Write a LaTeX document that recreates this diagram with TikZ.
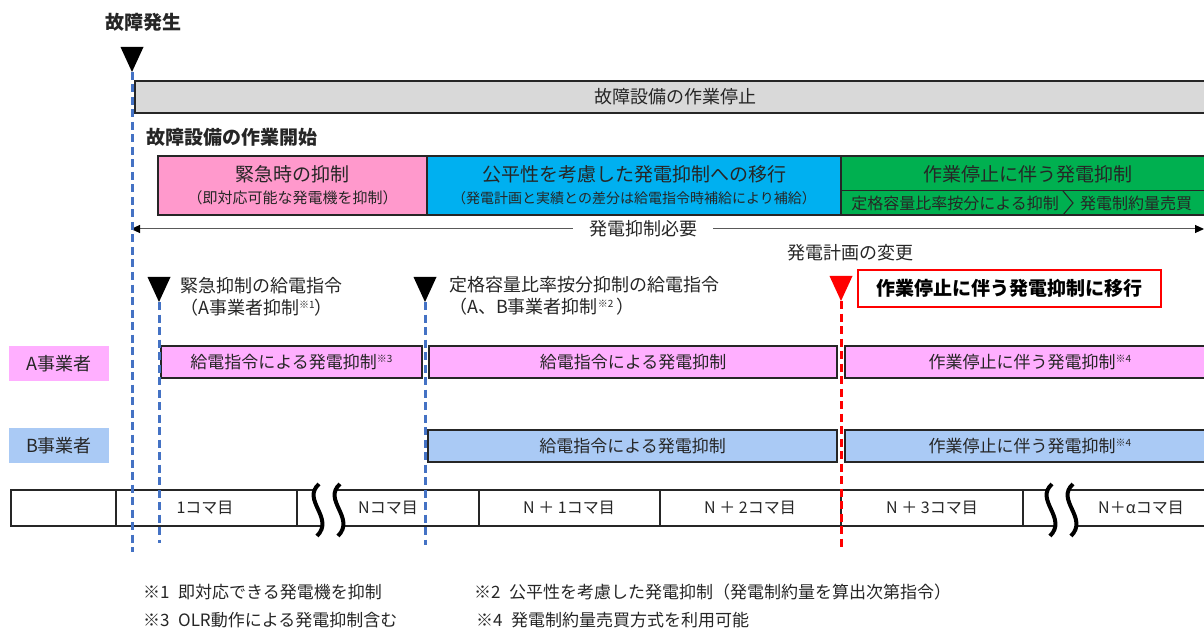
\documentclass[tikz,border=0pt]{standalone}
\usepackage{fontspec}
\setmainfont{Noto Sans CJK JP}
\usetikzlibrary{arrows.meta}
\definecolor{EmgPink}{RGB}{255,153,204}
\definecolor{FairBlue}{RGB}{0,176,240}
\definecolor{StopGreen}{RGB}{0,176,80}
\definecolor{StopGray}{RGB}{217,217,217}
\definecolor{OpA}{RGB}{255,175,255}
\definecolor{OpB}{RGB}{170,202,245}
\definecolor{MarkBlue}{RGB}{68,114,196}
\definecolor{AlertRed}{RGB}{255,0,0}
\newcommand{\fs}[1]{\fontsize{#1}{#1}\selectfont}
\newcommand{\kome}[1]{\raisebox{0.6ex}{\fs{10}※#1}}

\begin{document}
\begin{tikzpicture}[x=1pt, y=-1pt,
    bar/.style={draw=black!85, line width=1.3pt, inner sep=0pt, text=black!85},
    txt/.style={inner sep=0pt, text=black!85},
    guide/.style={MarkBlue, line width=3pt, dash pattern=on 8pt off 4.5pt}]
        \clip (0,0) rectangle (1204,628);
        \node[txt, font=\fs{19}\bfseries] (fault) at (143,22) {故障発生};
        \node[bar, fill=StopGray, minimum width=1080, minimum height=32, font=\fs{18}] (halt) at (675,97) {故障設備の作業停止};
        \node[txt, font=\fs{19}\bfseries, anchor=west] (start) at (146,137) {故障設備の作業開始};
        % phases
        \node[bar, fill=EmgPink, minimum width=269, minimum height=59] (emg) at (292.5,185.5) {};
        \node[txt, font=\fs{19}] (emg-t) at ([yshift=11.5]emg.center) {緊急時の抑制};
        \node[txt, font=\fs{15}] (emg-s) at ([yshift=-12.5]emg.center) {（即対応可能な発電機を抑制）};
        \node[bar, fill=FairBlue, minimum width=414, minimum height=59] (fair) at (634,185.5) {};
        \node[txt, font=\fs{19}] (fair-t) at ([yshift=11.5]fair.center) {公平性を考慮した発電抑制への移行};
        \node[txt, font=\fs{14}] (fair-s) at ([yshift=-12.5]fair.center) {（発電計画と実績との差分は給電指令時補給により補給）};
        \node[bar, fill=StopGreen, minimum width=374, minimum height=59] (stop) at (1028,185.5) {};
        \node[txt, font=\fs{19}] (stop-t) at ([yshift=11.5]stop.center) {作業停止に伴う発電抑制};
        \draw[black!85, line width=1.3pt] (841,190.5) -- (1215,190.5);
        \draw[black!85, line width=1.1pt] (1063,191) -- (1073,203) -- (1063,215);
        \node[txt, font=\fs{16}] (stop-a) at (955,203) {定格容量比率按分による抑制};
        \node[txt, font=\fs{16}, anchor=west] (stop-b) at (1080,203) {発電制約量売買};
        % need span
        \coordinate (need-l) at (131,229);
        \coordinate (need-r) at (1204,229);
        \draw[black!65, line width=1pt, {Triangle[length=9pt,width=8pt,color=black]}-{Triangle[length=9pt,width=8pt,color=black]}] (need-l) -- (need-r);
        \node[fill=white, text=black!85, font=\fs{18}, inner xsep=16pt, inner ysep=1pt] (need) at (643,229) {発電抑制必要};
        \node[txt, font=\fs{18}] (plan) at (850,253) {発電計画の変更};
        % markers
        \foreach \n/\x/\y/\c in {f0/132/47/black, f1/159/277/black, f2/425/277/black, f3/841/276/AlertRed} {
            \fill[\c] (\x-11.5,\y) -- (\x+11.5,\y) -- (\x,\y+25) -- cycle;
            \coordinate (\n) at (\x,\y+25);
        }
        \node[txt, font=\fs{18}, anchor=west] (cmd1) at (180,286) {緊急抑制の給電指令};
        \node[txt, font=\fs{18}, anchor=west] (cmd1b) at (180,308) {（A事業者抑制\kome{1}）};
        \node[txt, font=\fs{18}, anchor=west] (cmd2) at (449,285) {定格容量比率按分抑制の給電指令};
        \node[txt, font=\fs{18}, anchor=west] (cmd2b) at (449,307) {（A、B事業者抑制\kome{2}\,）};
        \node[draw=AlertRed, line width=1.3pt, minimum width=303, minimum height=37, font=\fs{19}\bfseries] (shift) at (1009.5,288.5) {作業停止に伴う発電抑制に移行};
        % operators
        \node[fill=OpA, text=black!85, minimum width=100, minimum height=35, font=\fs{18}] (opA) at (59,363.5) {A事業者};
        \node[fill=OpB, text=black!85, minimum width=100, minimum height=35, font=\fs{18}] (opB) at (59,445.5) {B事業者};
        \node[bar, fill=OpA, minimum width=261, minimum height=32, font=\fs{17}] (a1) at (291.5,362) {給電指令による発電抑制\kome{3}};
        \node[bar, fill=OpA, minimum width=408, minimum height=32, font=\fs{17}] (a2) at (633,362) {給電指令による発電抑制};
        \node[bar, fill=OpA, minimum width=370, minimum height=32, font=\fs{17}] (a3) at (1030,362) {作業停止に伴う発電抑制\kome{4}};
        \node[bar, fill=OpB, minimum width=409, minimum height=32, font=\fs{17}] (b1) at (632.5,446) {給電指令による発電抑制};
        \node[bar, fill=OpB, minimum width=370, minimum height=32, font=\fs{17}] (b2) at (1030,446) {作業停止に伴う発電抑制\kome{4}};
        % time slots
        \draw[black!85, line width=1.3pt] (11,490) rectangle (1215,526);
        \foreach \x in {116,297,479,660,841,1023} { \draw[black!85, line width=1.3pt] (\x,490) -- (\x,526); }
        \foreach \x/\t [count=\i] in {205/1コマ目, 388/Nコマ目, 569/N ＋ 1コマ目, 750/N ＋ 2コマ目, 932/N ＋ 3コマ目, 1141/N＋αコマ目} {
            \node[txt, font=\fs{16}] (slot\i) at (\x,508) {\t};
        }
        \foreach \x in {317,1050} {
            \fill[white] (\x+2,484) .. controls (\x-16,500) and (\x+18,518) .. (\x,536) -- (\x+21,536) .. controls (\x+39,518) and (\x+5,500) .. (\x+23,484) -- cycle;
            \draw[line width=4pt] (\x+2,484) .. controls (\x-16,500) and (\x+18,518) .. (\x,536);
            \draw[line width=4pt] (\x+23,484) .. controls (\x+5,500) and (\x+39,518) .. (\x+21,536);
        }
        % guides
        \draw[guide] (f0) -- (f0 |- 0,552);
        \draw[guide] (f1) -- (f1 |- 0,543);
        \draw[guide] (f2) -- (f2 |- 0,545);
        \draw[guide, AlertRed] (f3) -- (f3 |- 0,548);
        % notes
        \node[txt, font=\fs{17}, anchor=west] (n1) at (143,592) {※1\enspace 即対応できる発電機を抑制};
        \node[txt, font=\fs{17}, anchor=west] (n2) at (474,592) {※2\enspace 公平性を考慮した発電抑制（発電制約量を算出次第指令）};
        \node[txt, font=\fs{17}, anchor=west] (n3) at (143,620) {※3\enspace OLR動作による発電抑制含む};
        \node[txt, font=\fs{17}, anchor=west] (n4) at (476,620) {※4\enspace 発電制約量売買方式を利用可能};
    \end{tikzpicture}
\end{document}
